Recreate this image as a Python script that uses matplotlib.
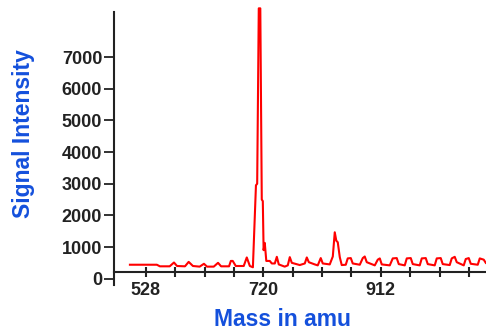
import numpy as np
import matplotlib.pyplot as plt

# espectro (masa en amu, intensidad)
masa = [502, 546, 551, 567, 574, 579, 592, 598, 605, 616, 623, 628, 639, 646, 651,
        664, 667, 670, 675, 688, 693, 698, 703, 708, 710, 712.6, 715.1, 717.5, 719.2,
        720.5, 722.4, 724.9, 730.6, 733.9, 738.8, 742.1, 745.3, 755, 760, 763.3, 766.6,
        779.6, 787.8, 791.1, 794.4, 804.1, 809, 813.9, 817.2, 828.6, 833.6, 836.8, 839.3,
        841.7, 845, 848.2, 854.8, 858, 863, 866.2, 877.7, 882.6, 885.8, 889.1, 902.2,
        907.1, 910.4, 913.6, 926.7, 931.6, 938.1, 941.4, 951.2, 954.5, 961, 964.3, 975.7,
        979, 985.5, 988.8, 1000.2, 1003.5, 1010, 1013.3, 1024.7, 1028, 1032.9, 1036.2,
        1047.6, 1050.9, 1055.8, 1059.1, 1070.5, 1073.8, 1080.3, 1083.6]
intensidad = [440, 440, 390, 390, 510, 400, 390, 530, 400, 380, 470, 380, 380, 500, 390,
              390, 560, 560, 400, 400, 670, 400, 360, 2950, 3000, 8540, 8540, 2500, 2450,
              900, 1130, 560, 560, 480, 480, 690, 450, 380, 420, 680, 500,
              430, 480, 670, 520, 450, 420, 650, 480, 450, 700, 1465, 1200,
              1150, 680, 430, 440, 640, 650, 480, 440, 650, 700, 520, 420,
              600, 640, 450, 420, 640, 650, 460, 420, 640, 650, 460, 420,
              640, 650, 460, 420, 640, 650, 460, 430, 640, 690, 520,
              420, 620, 650, 470, 440, 640, 600, 500]

ticks_x = np.arange(528, 1057, 48)
etiquetas_x = ['528', '', '', '', '720', '', '', '', '912', '', '', '']
ticks_y = np.arange(0, 7001, 1000)

azul = '#1450dc'
gris = '#222222'

fig = plt.figure(figsize=(4.86, 3.31), dpi=100)
ax = fig.add_axes([0.2346, 0.139, 0.7654, 0.8247])

ax.plot(masa, intensidad, '-', color='red', lw=1.5, clip_on=False)

ax.set_xlim(476, 1084)
ax.set_ylim(-200, 8424)

ax.spines['top'].set_visible(False)
ax.spines['right'].set_visible(False)
ax.spines['bottom'].set_position(('data', 220))
for s in ['left', 'bottom']:
    ax.spines[s].set_linewidth(1.5)
    ax.spines[s].set_color(gris)

ax.set_xticks(ticks_x)
ax.set_xticklabels(etiquetas_x)
ax.set_yticks(ticks_y)
ax.tick_params(axis='x', direction='inout', length=7, width=1.5, color=gris, pad=4)
ax.tick_params(axis='y', direction='out', length=7, width=1.3, color=gris, pad=1.5)
for lab in ax.get_xticklabels() + ax.get_yticklabels():
    lab.set_fontfamily('Liberation Sans')
    lab.set_fontweight('bold')
    lab.set_fontsize(13)
    lab.set_color(gris)

fig.text(24 / 486, 1 - 134 / 331, 'Signal Intensity', rotation=90, ha='center', va='center',
         color=azul, fontsize=16.5, fontweight='bold', family='Liberation Sans')
fig.text(282 / 486, 1 - 319 / 331, 'Mass in amu', ha='center', va='center',
         color=azul, fontsize=16.5, fontweight='bold', family='Liberation Sans')

plt.savefig('out.png')
